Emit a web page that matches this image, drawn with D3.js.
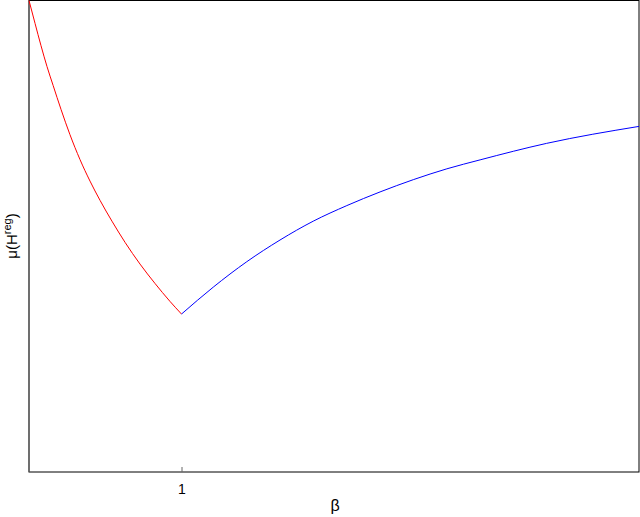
<!DOCTYPE html>
<html><head><meta charset="utf-8">
<script src="https://cdn.jsdelivr.net/npm/d3@7"></script>
<style>body{margin:0;background:#fff}svg{display:block}</style>
</head><body>
<svg id="c" width="640" height="517"></svg>
<script>
const xTicks = [1];
const xTickLabels = ["1"];
const redBeta = [0.5, 0.520, 0.539, 0.559, 0.579, 0.605, 0.634, 0.667, 0.700, 0.733, 0.772, 0.815, 0.864, 0.913, 0.962, 1.0];
const redMu   = [1.0, 0.951, 0.905, 0.860, 0.820, 0.769, 0.716, 0.663, 0.617, 0.576, 0.532, 0.487, 0.441, 0.400, 0.362, 0.335];
const blueBeta = [1.0, 1.104, 1.214, 1.323, 1.432, 1.542, 1.651, 1.760, 1.870, 1.979, 2.197, 2.5];
const blueMu   = [0.335, 0.392, 0.446, 0.492, 0.532, 0.565, 0.594, 0.620, 0.643, 0.662, 0.697, 0.733];

const svg = d3.select("#c");
const FONT = "'Liberation Sans', Arial, Helvetica, sans-serif";
const L = 29, R = 639, T = 0.5, B = 472;
const x = d3.scaleLinear().domain([0.5, 2.5]).range([L, R]);
const y = d3.scaleLinear().domain([0, 1]).range([B, T]);

svg.append("rect").attr("x", L).attr("y", T).attr("width", R - L).attr("height", B - T)
  .attr("fill", "none").attr("stroke", "#000").attr("stroke-width", 1);
svg.append("line").attr("x1", L).attr("x2", L).attr("y1", T).attr("y2", B)
  .attr("stroke", "#666").attr("stroke-width", 1.3);

const xAxis = d3.axisBottom(x).tickValues(xTicks).tickFormat((d, i) => xTickLabels[i]).tickSizeInner(-5).tickSizeOuter(0).tickPadding(12);
const gx = svg.append("g").attr("transform", `translate(0,${B})`).call(xAxis);
gx.select(".domain").remove();
gx.selectAll(".tick line").attr("stroke", "#666");
gx.selectAll(".tick text").style("font-family", FONT).attr("font-size", 14).attr("fill", "#000");

const line = d3.line().x(d => x(d[0])).y(d => y(d[1])).curve(d3.curveMonotoneX);
svg.append("path").datum(redBeta.map((b, i) => [b, redMu[i]]))
  .attr("d", line).attr("fill", "none").attr("stroke", "#ff0000").attr("stroke-width", 1);
svg.append("path").datum(blueBeta.map((b, i) => [b, blueMu[i]]))
  .attr("d", line).attr("fill", "none").attr("stroke", "#0000ff").attr("stroke-width", 1);

svg.append("text").attr("x", 335).attr("y", 511).attr("text-anchor", "middle")
  .style("font-family", FONT).attr("font-size", 16).text("β");

const yl = svg.append("text").attr("transform", "translate(17,236) rotate(-90)").attr("text-anchor", "middle")
  .style("font-family", FONT).attr("font-size", 15);
yl.append("tspan").text("μ(H");
yl.append("tspan").attr("dy", -6).attr("font-size", 11).text("reg");
yl.append("tspan").attr("dy", 6).text(")");
</script>
</body></html>
